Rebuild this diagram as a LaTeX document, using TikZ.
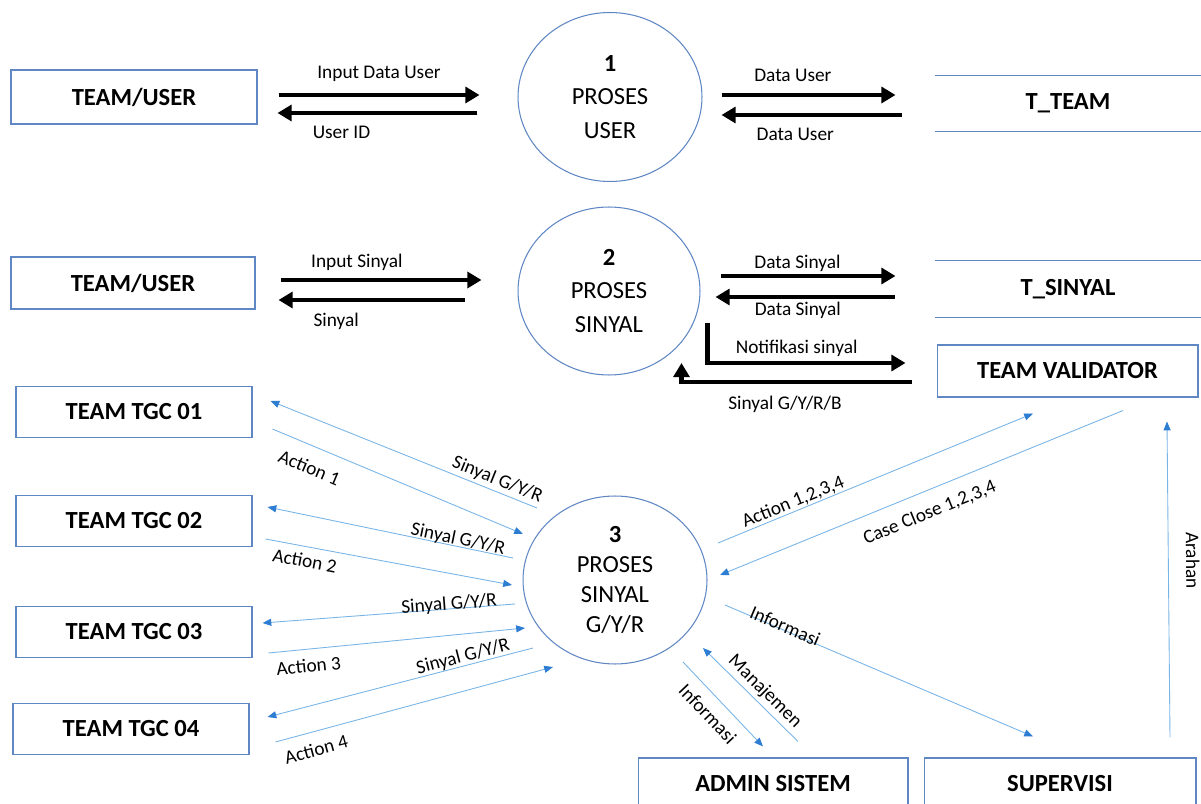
\documentclass[tikz,border=0pt]{standalone}
\usepackage{fontspec}
\setmainfont{Carlito}
\usetikzlibrary{arrows.meta,calc,shapes.geometric}
\definecolor{boxblue}{RGB}{95,135,195}
\definecolor{flowblue}{RGB}{120,180,230}
\definecolor{tipblue}{RGB}{45,125,210}
\begin{document}
\begin{tikzpicture}[x=0.02cm,y=-0.02cm,
  entity/.style={draw=boxblue,line width=.6pt,minimum width=4.72cm,minimum height=1.02cm,font=\fontsize{14}{16}\selectfont\bfseries},
  store/.style={minimum width=5.32cm,minimum height=1.1cm,font=\fontsize{14}{16}\selectfont\bfseries,
    append after command={(\tikzlastnode.north west) edge[boxblue,line width=.6pt] (\tikzlastnode.north east)
      (\tikzlastnode.south west) edge[boxblue,line width=.6pt] (\tikzlastnode.south east)}},
  proc/.style={ellipse,draw=boxblue,line width=.6pt,minimum width=3.68cm,minimum height=3.38cm,align=center,inner sep=0pt,font=\fontsize{14}{19}\selectfont},
  bigarrow/.style={line width=2.7pt,-{Triangle[length=8pt,width=9pt]}},
  flowtip/.tip={Triangle[length=5pt,width=4pt,color=tipblue]},
  flow/.style={flowblue,line width=.5pt,-flowtip},
  lbl/.style={font=\fontsize{11}{13}\selectfont,text=black,inner sep=0pt}]
\useasboundingbox (0,0) rectangle (1201,804);
\clip (0,0) rectangle (1201,804);

\node[entity,minimum width=4.92cm,minimum height=1.08cm] (user1) at (134,97) {TEAM/USER};
\node[proc] (p1) at (610,97) {\textbf{1}\\PROSES\\USER};
\node[store] (tteam) at (1068,103.5) {T\_TEAM};
\draw[bigarrow] ($(user1.east)+(21,-2)$) -- ++(201,0) node[lbl,midway,above=6pt] {Input Data User};
\draw[bigarrow] ($(p1.west)+(-40,16)$) -- ++(-200,0) node[lbl,pos=.68,below=6pt] {User ID};
\draw[bigarrow] ($(p1.east)+(19,-2)$) -- ++(174,0) node[lbl,pos=.41,above=6pt] {Data User};
\draw[bigarrow] ($(p1.east)+(199,18)$) -- ++(-180,0) node[lbl,pos=.59,below=6pt] {Data User};

\node[entity,minimum width=4.88cm,minimum height=1.04cm] (user2) at (133,283) {TEAM/USER};
\node[proc,minimum width=3.64cm,minimum height=3.36cm] (p2) at (609,291) {\textbf{2}\\PROSES\\SINYAL};
\node[store,minimum height=1.12cm] (tsinyal) at (1068,289) {T\_SINYAL};
\node[entity,minimum width=5.22cm,minimum height=1.04cm] (validator) at (1067.5,371) {TEAM VALIDATOR};
\draw[bigarrow] ($(user2.east)+(25,-3)$) -- ++(201,0) node[lbl,pos=.38,above=4pt] {Input Sinyal};
\draw[bigarrow] ($(user2.east)+(209,17)$) -- ++(-186,0) node[lbl,pos=.69,below=6pt] {Sinyal};
\draw[bigarrow] ($(p2.east)+(20,-15)$) -- ++(175,0) node[lbl,pos=.44,above=1pt] {Data Sinyal};
\draw[bigarrow] ($(p2.east)+(194,6)$) -- ++(-179,0) node[lbl,pos=.54,below=1.5pt] {Data Sinyal};
\draw[bigarrow,line join=miter] ($(p2.east)+(7,32)$) -- ++(0,40) -- ++(198,0) node[lbl,pos=.45,above=2.5pt] {Notifikasi sinyal};
\draw[bigarrow,line join=miter] ($(validator.west)+(-25,11)$) -- ++(-230,0) node[lbl,pos=.55,below=6.5pt] {Sinyal G/Y/R/B} -- ++(0,-19);

\node[entity] (tgc1) at (134,412) {TEAM TGC 01};
\node[entity] (tgc2) at (134,521) {TEAM TGC 02};
\node[entity] (tgc3) at (134,632) {TEAM TGC 03};
\node[entity] (tgc4) at (131,729) {TEAM TGC 04};
\node[proc,minimum height=3.36cm,font=\fontsize{14}{17}\selectfont] (p3) at (615,580) {\textbf{3}\\PROSES\\SINYAL\\G/Y/R};
\node[entity,minimum width=5.4cm,minimum height=1.04cm] (admin) at (773,784) {ADMIN SISTEM};
\node[entity,minimum width=5.44cm,minimum height=1.04cm] (supervisi) at (1060,784) {SUPERVISI};

\draw[flow] ($(p3.center)+(-78,-72)$) -- node[lbl,sloped,pos=.165,above=1.5pt] {Sinyal G/Y/R} ($(tgc1.east)+(18,-11)$);
\draw[flow] ($(tgc1.east)+(20,17)$) -- node[lbl,sloped,pos=.18,below=8pt] {Action 1} ($(p3.center)+(-92,-46)$);
\draw[flow] ($(p3.center)+(-102,-22)$) -- node[lbl,sloped,pos=.23,above=-1pt] {Sinyal G/Y/R} ($(tgc2.east)+(15,-14)$);
\draw[flow] ($(tgc2.east)+(13,18)$) -- node[lbl,sloped,pos=.17,below=4pt] {Action 2} ($(p3.center)+(-103,5)$);
\draw[flow] ($(p3.center)+(-100,24)$) -- node[lbl,sloped,pos=.26,above=-2.5pt] {Sinyal G/Y/R} ($(tgc3.east)+(10,-9)$);
\draw[flow] ($(tgc3.east)+(16,21)$) -- node[lbl,sloped,pos=.15,below=5.5pt] {Action 3} ($(p3.center)+(-90,48)$);
\draw[flow] ($(p3.center)+(-82,68)$) -- node[lbl,sloped,pos=.255,above=0pt] {Sinyal G/Y/R} ($(tgc4.east)+(18,-12)$);
\draw[flow] ($(tgc4.east)+(26,13)$) -- node[lbl,sloped,pos=.13,below=6pt] {Action 4} ($(p3.center)+(-62,87)$);

\draw[flow] ($(p3.center)+(103,-37)$) -- node[lbl,sloped,pos=.25,above=.5pt] {Action 1,2,3,4} ($(validator.south)+(-34.5,16)$);
\draw[flow] ($(validator.south)+(55.5,13)$) -- node[lbl,sloped,pos=.5,below=7.5pt] {Case Close 1,2,3,4} ($(p3.center)+(105,-5)$);
\draw[flow,flowtip-] ($(validator.south)+(99.5,24)$) -- node[lbl,sloped,pos=.44,above=9.8pt] {Arahan} ($(supervisi.north)+(110,-20)$);
\draw[flow] ($(p3.center)+(110,25)$) -- node[lbl,sloped,pos=.19,above=-1.7pt] {Informasi} ($(supervisi.north)+(-27,-21)$);
\draw[flow] ($(p3.center)+(68,82)$) -- node[lbl,sloped,pos=.47,below=6pt] {Informasi} ($(admin.north)+(-10,-11)$);
\draw[flow] ($(admin.north)+(25,-16)$) -- node[lbl,sloped,pos=.44,above=2pt] {Manajemen} ($(p3.center)+(88,68)$);
\end{tikzpicture}
\end{document}
